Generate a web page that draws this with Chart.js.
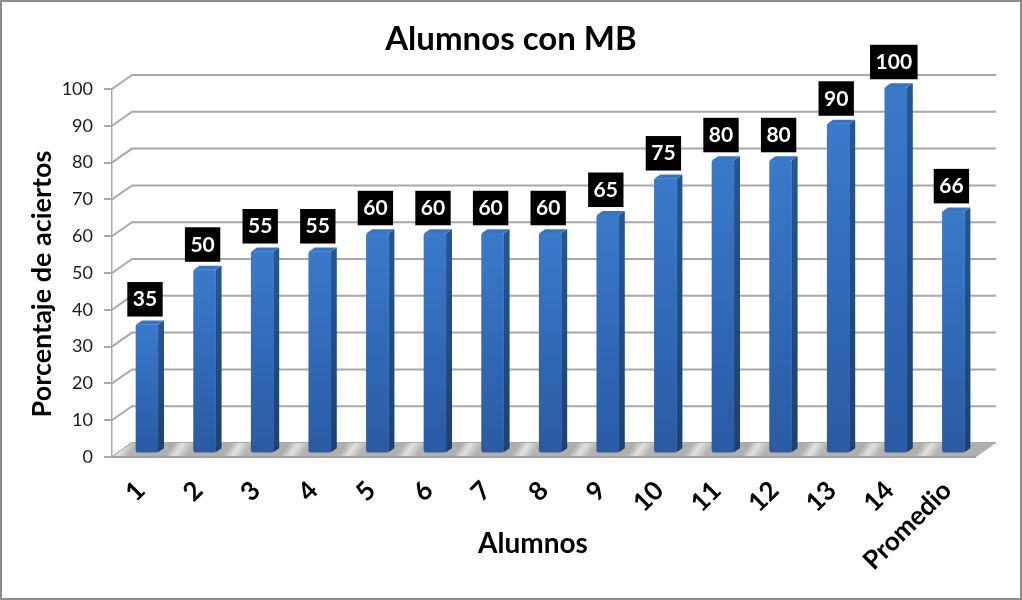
<!DOCTYPE html>
<html>
<head>
<meta charset="utf-8">
<title>Alumnos con MB</title>
<script src="https://cdn.jsdelivr.net/npm/chart.js@4"></script>
<style>
    body { margin: 0; background: #fff; }
    canvas { display: block; }
</style>
</head>
<body>
<canvas id="chart" width="1022" height="600"></canvas>
<script>
const categories = ["1", "2", "3", "4", "5", "6", "7", "8", "9", "10", "11", "12", "13", "14", "Promedio"];
const aciertos = [35, 50, 55, 55, 60, 60, 60, 60, 65, 75, 80, 80, 90, 100, 66];
const yTicks = [0, 10, 20, 30, 40, 50, 60, 70, 80, 90, 100];

const chartTitle = "Alumnos con MB";
const xTitle = "Alumnos";
const yTitle = "Porcentaje de aciertos";

const font = "Lato";
const gridGray = "#a8a8a8";

// depth of the fake 3D box and of each bar
const wallDx = 20;
const wallDy = -14;
const barDx = 6;
const barDy = -4;
const barShift = 6.2; // bars stand in the middle of the floor

function barGradient(ctx, top, bottom) {
    const g = ctx.createLinearGradient(0, top, 0, bottom);
    g.addColorStop(0, "#3a7acb");
    g.addColorStop(0.55, "#3069b6");
    g.addColorStop(1, "#2a5ba3");
    return g;
}

const box3d = {
    id: "box3d",
    beforeDraw(chart) {
        const { ctx, width, height } = chart;
        ctx.save();
        ctx.strokeStyle = "#8c8c8c";
        ctx.lineWidth = 2;
        ctx.strokeRect(1, 1, width - 2, height - 2);
        ctx.restore();
    },
    beforeDatasetsDraw(chart) {
        const { ctx, chartArea: a, scales } = chart;
        ctx.save();

        // walls
        ctx.strokeStyle = gridGray;
        ctx.lineWidth = 2;
        yTicks.forEach((v) => {
            const y = scales.y.getPixelForValue(v);
            ctx.beginPath();
            ctx.moveTo(a.left, y);
            ctx.lineTo(a.left + wallDx, y + wallDy);
            ctx.lineTo(a.right + wallDx, y + wallDy);
            ctx.stroke();
        });

        // floor with the slanted silver streaks between the bars
        const slant = 0.7;
        const span = (a.right - a.left) / (1 + slant * slant);
        const floor = ctx.createLinearGradient(a.left - 5, a.bottom, a.left - 5 + span, a.bottom + span * slant);
        const step = 1 / categories.length;
        categories.forEach((c, i) => {
            floor.addColorStop(i * step, "#aeaeae");
            floor.addColorStop((i + 0.16) * step, "#e2e2e2");
            floor.addColorStop((i + 0.36) * step, "#b2b2b2");
        });
        floor.addColorStop(1, "#aeaeae");
        ctx.fillStyle = floor;
        ctx.beginPath();
        ctx.moveTo(a.left, a.bottom);
        ctx.lineTo(a.right, a.bottom);
        ctx.lineTo(a.right + wallDx, a.bottom + wallDy);
        ctx.lineTo(a.left + wallDx, a.bottom + wallDy);
        ctx.closePath();
        ctx.fill();
        ctx.strokeStyle = "#a0a0a0";
        ctx.beginPath();
        ctx.moveTo(a.left, a.bottom);
        ctx.lineTo(a.right, a.bottom);
        ctx.stroke();

        // side and top faces of the bars
        chart.getDatasetMeta(0).data.forEach((bar) => {
            const right = bar.x + barShift + bar.width / 2;
            const left = bar.x + barShift - bar.width / 2;
            const side = ctx.createLinearGradient(0, bar.y, 0, bar.base);
            side.addColorStop(0, "#27568f");
            side.addColorStop(1, "#1d4172");
            ctx.fillStyle = side;
            ctx.beginPath();
            ctx.moveTo(right, bar.y);
            ctx.lineTo(right + barDx, bar.y + barDy);
            ctx.lineTo(right + barDx, bar.base + barDy);
            ctx.lineTo(right, bar.base);
            ctx.closePath();
            ctx.fill();

            ctx.fillStyle = "#3a74bf";
            ctx.beginPath();
            ctx.moveTo(left, bar.y);
            ctx.lineTo(left + barDx, bar.y + barDy);
            ctx.lineTo(right + barDx, bar.y + barDy);
            ctx.lineTo(right, bar.y);
            ctx.closePath();
            ctx.fill();
        });
        ctx.restore();
    },
    beforeDatasetDraw(chart) {
        chart.ctx.save();
        chart.ctx.translate(barShift, 0);
    },
    afterDatasetDraw(chart) {
        chart.ctx.restore();
    },
    afterDatasetsDraw(chart) {
        const { ctx } = chart;
        ctx.save();

        // value boxes
        ctx.font = "bold 21px " + font;
        ctx.textAlign = "center";
        ctx.textBaseline = "middle";
        chart.getDatasetMeta(0).data.forEach((bar, i) => {
            const text = String(aciertos[i]);
            const w = ctx.measureText(text).width + 11;
            const cx = bar.x + barShift - 2;
            const bottom = bar.y - 8;
            ctx.fillStyle = "#000";
            ctx.fillRect(cx - w / 2, bottom - 34.5, w, 34.5);
            ctx.fillStyle = "#fff";
            ctx.fillText(text, cx, bottom - 17);
        });

        // axis titles sit off-centre from the plot in the original
        ctx.fillStyle = "#000";
        ctx.font = "bold 28px " + font;
        ctx.fillText(xTitle, 533, 544);
        ctx.font = "bold 27px " + font;
        ctx.translate(42, 284);
        ctx.rotate(-Math.PI / 2);
        ctx.fillText(yTitle, 0, 0);
        ctx.restore();
    },
};

new Chart(document.getElementById("chart"), {
    type: "bar",
    plugins: [box3d],
    data: {
        labels: categories,
        datasets: [
            {
                label: yTitle,
                data: aciertos,
                yAxisID: "y2",
                clip: false,
                barThickness: 22,
                borderRadius: 2,
                borderSkipped: false,
                backgroundColor: (c) => {
                    const s = c.chart.scales.y2;
                    const top = c.parsed ? s.getPixelForValue(c.parsed.y) : NaN;
                    const bottom = c.parsed ? s.getPixelForValue(0) : NaN;
                    if (!Number.isFinite(top) || !Number.isFinite(bottom)) return "#3069b6";
                    return barGradient(c.chart.ctx, top, bottom);
                },
            },
        ],
    },
    options: {
        responsive: false,
        animation: false,
        plugins: {
            legend: { display: false },
            tooltip: { enabled: false },
            title: {
                display: true,
                text: chartTitle,
                color: "#000",
                font: { family: font, size: 33, weight: "bold", lineHeight: 1.2 },
                padding: { top: 20, bottom: 29.4 },
            },
        },
        scales: {
            x: {
                grid: { display: false },
                border: { display: false },
                afterFit: (s) => { s.height = 143; },
                ticks: {
                    color: "#000",
                    autoSkip: false,
                    minRotation: 45,
                    maxRotation: 45,
                    padding: 10,
                    font: { family: font, size: 26, weight: "bold" },
                },
            },
            y: {
                min: 0,
                max: 100,
                afterFit: (s) => { s.width = 112; },
                afterBuildTicks: (s) => { s.ticks = yTicks.map((value) => ({ value })); },
                grid: { drawOnChartArea: false, color: gridGray, lineWidth: 2, tickLength: 8 },
                border: { color: gridGray, width: 1.5 },
                ticks: {
                    color: "#1a1a1a",
                    padding: 11,
                    font: { family: font, size: 18 },
                },
            },
            // bars get a slightly shorter scale: they start higher up on the floor.
            // Invisible, it also keeps the right margin so the title stays centred on the page.
            y2: {
                position: "right",
                min: -1.29,
                max: 99.53,
                afterFit: (s) => { s.width = 46; },
                grid: { display: false },
                border: { display: false },
                ticks: { display: false },
            },
        },
    },
});
</script>
</body>
</html>
